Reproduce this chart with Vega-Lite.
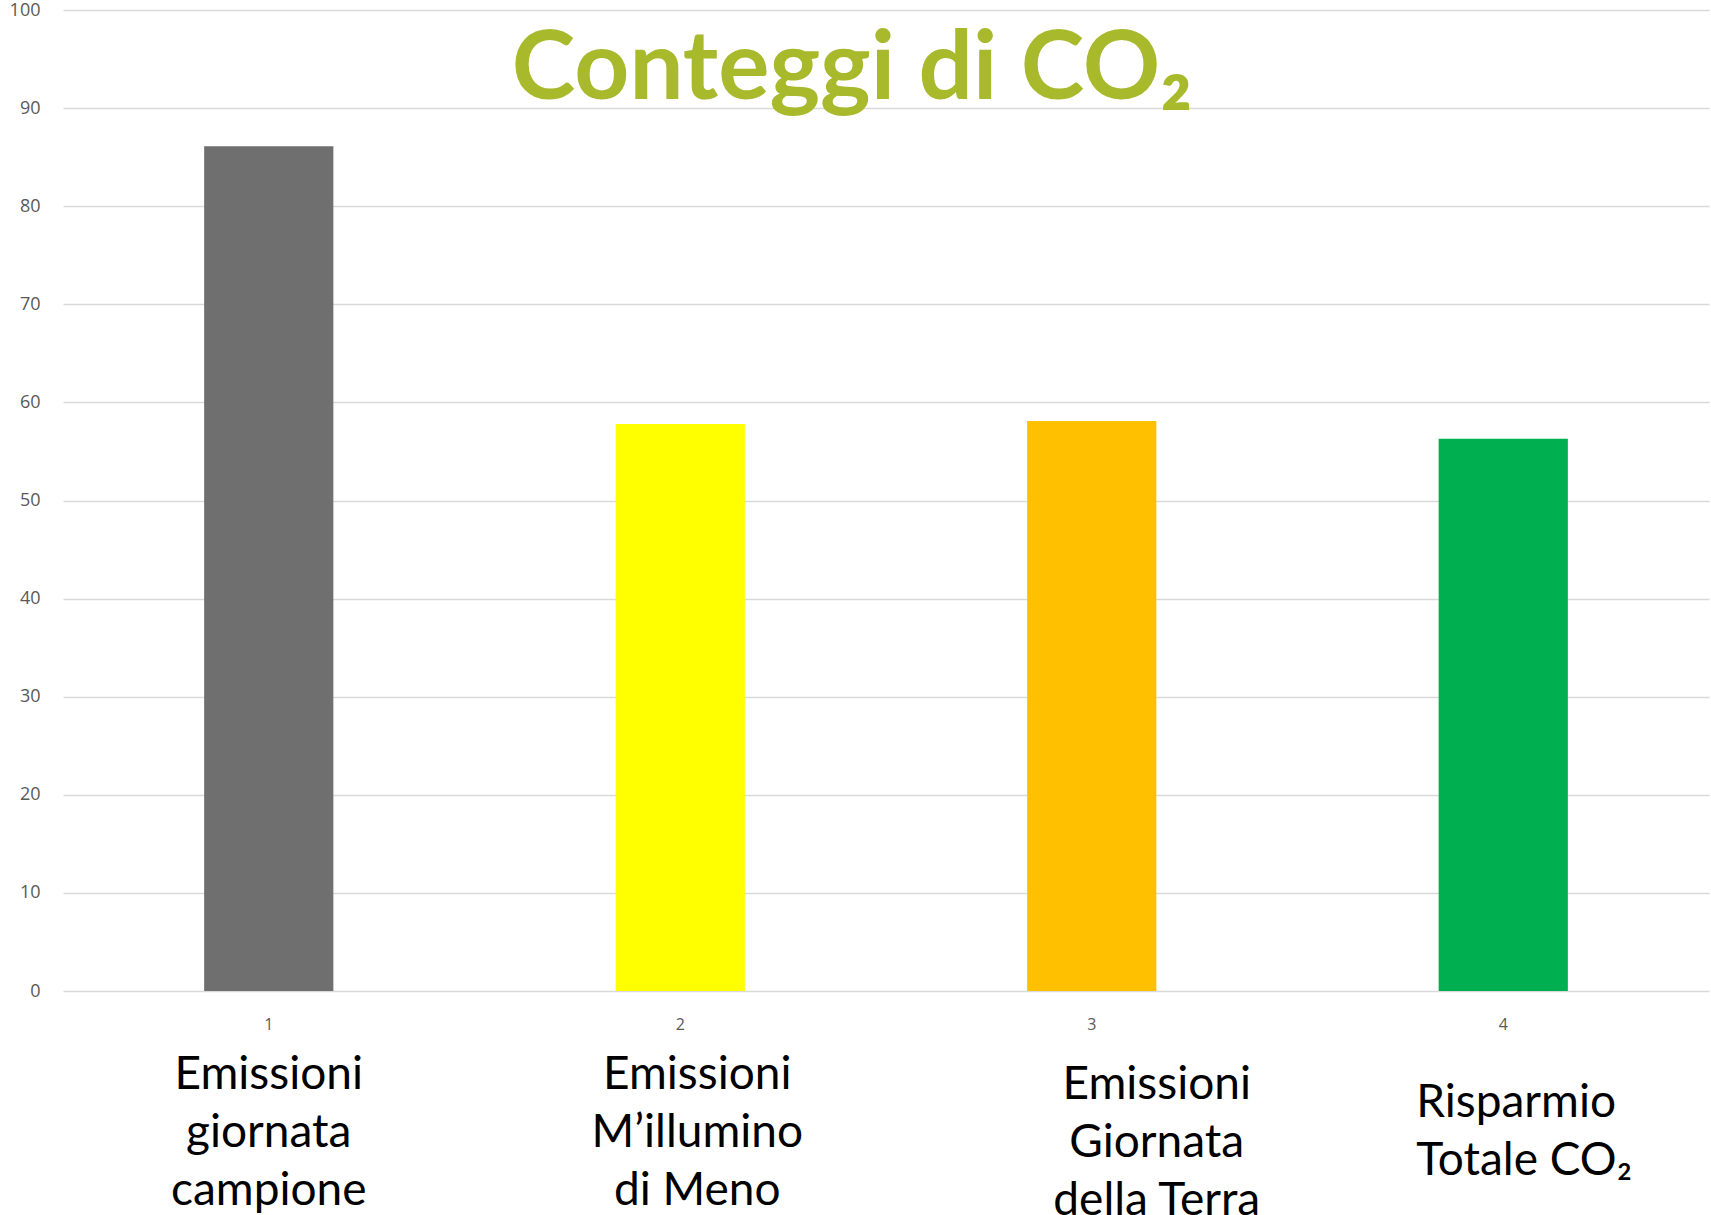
{
  "$schema": "https://vega.github.io/schema/vega-lite/v6.json",
  "width": 1646,
  "height": 981,
  "autosize": {"type": "none"},
  "padding": {"left": 63, "top": 10, "right": 2, "bottom": 224},
  "background": "white",
  "config": {"view": {"stroke": null}},
  "title": {
    "text": "Conteggi di CO₂",
    "font": "Lato",
    "fontSize": 96,
    "fontWeight": "bold",
    "color": "#A8B92B",
    "anchor": "middle",
    "frame": "group",
    "baseline": "alphabetic",
    "offset": 0,
    "dx": -34,
    "dy": 194
  },
  "data": {
    "values": [
      {"label": "Emissioni|giornata|campione", "value": 86.1},
      {"label": "Emissioni|M’illumino|di Meno", "value": 57.8},
      {"label": "Emissioni|Giornata|della Terra", "value": 58.1},
      {"label": "Risparmio|Totale CO₂", "value": 56.3}
    ]
  },
  "encoding": {
    "y": {
      "field": "value",
      "type": "quantitative",
      "scale": {"domain": [0, 100], "nice": false},
      "axis": {
        "values": [0, 10, 20, 30, 40, 50, 60, 70, 80, 90, 100],
        "grid": true,
        "gridColor": "#D9D9D9",
        "gridWidth": 1.5,
        "domain": false,
        "ticks": false,
        "labelPadding": 23,
        "labelFont": "Open Sans",
        "labelFontSize": 18,
        "labelColor": "#595959",
        "labelFlush": false,
        "title": null
      }
    }
  },
  "layer": [
    {
      "mark": {"type": "bar"},
      "encoding": {
        "x": {
          "field": "label",
          "type": "nominal",
          "sort": null,
          "scale": {"paddingInner": 0.686, "paddingOuter": 0.343},
          "axis": {
            "orient": "bottom",
            "domain": false,
            "ticks": false,
            "grid": false,
            "labelExpr": "round(datum.index * 3) + 1",
            "labelFont": "Open Sans",
            "labelFontSize": 16,
            "labelColor": "#595959",
            "labelPadding": 25,
            "labelAngle": 0,
            "labelBaseline": "top",
            "title": null
          }
        },
        "color": {
          "field": "label",
          "type": "nominal",
          "sort": null,
          "scale": {"range": ["#6F6F6F", "#FFFF00", "#FFC000", "#00B050"]},
          "legend": null
        }
      }
    },
    {
      "mark": {"type": "bar", "opacity": 0},
      "encoding": {
        "x": {
          "field": "label",
          "type": "nominal",
          "sort": null,
          "axis": {
            "orient": "bottom",
            "domain": false,
            "ticks": false,
            "grid": false,
            "labelExpr": "split(datum.value, '|')",
            "labelFont": "Lato",
            "labelFontSize": 46,
            "labelColor": "#000000",
            "labelLineHeight": 58,
            "labelAngle": 0,
            "labelBaseline": "top",
            "labelLimit": 0,
            "labelAlign": {
              "condition": {"test": "datum.value == 'Risparmio|Totale CO₂'", "value": "left"},
              "value": "center"
            },
            "labelPadding": {
              "condition": [
                {"test": "datum.value == 'Emissioni|Giornata|della Terra'", "value": 71},
                {"test": "datum.value == 'Risparmio|Totale CO₂'", "value": 89}
              ],
              "value": 61
            },
            "labelOffset": {
              "condition": [
                {"test": "datum.value == 'Emissioni|Giornata|della Terra'", "value": 65},
                {"test": "datum.value == 'Emissioni|M’illumino|di Meno'", "value": 17},
                {"test": "datum.value == 'Risparmio|Totale CO₂'", "value": -87}
              ],
              "value": 0
            },
            "title": null
          }
        }
      }
    }
  ],
  "resolve": {"axis": {"x": "independent"}}
}
